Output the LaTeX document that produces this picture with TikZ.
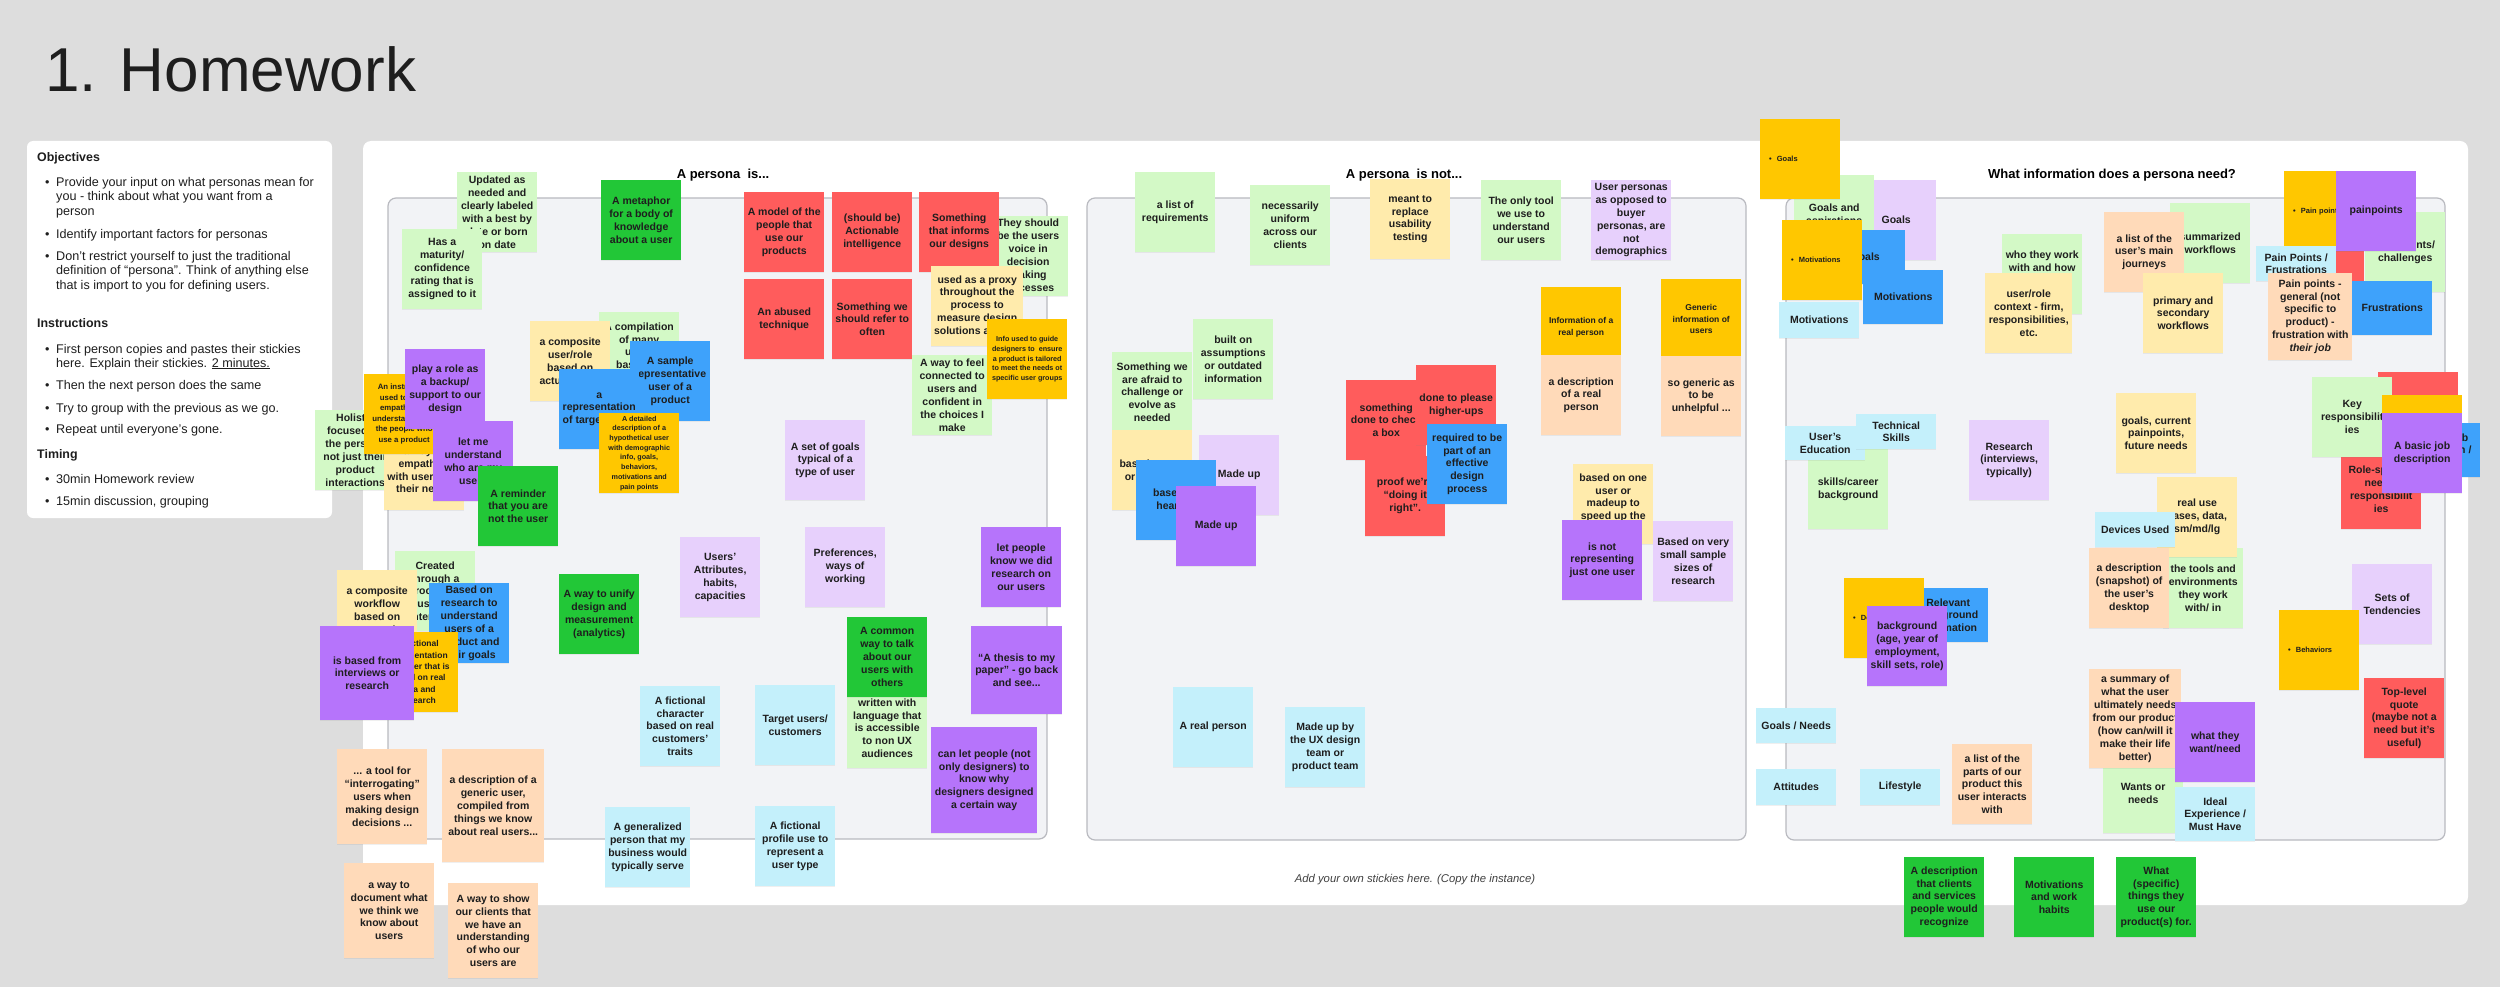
\documentclass[tikz,border=0pt]{standalone}
\usepackage{fontspec}
\setmainfont{Liberation Sans}
\usepackage{xcolor}
\usepackage{tikz}
\usetikzlibrary{shadows}

\definecolor{outergray}{HTML}{DDDDDD}
\definecolor{panelfill}{HTML}{F2F3F6}
\definecolor{panelline}{HTML}{B9BAC0}
\definecolor{inkblack}{HTML}{1E1E1E}
\definecolor{limefill}{HTML}{D3F9C6}
\definecolor{greenfill}{HTML}{22C737}
\definecolor{redfill}{HTML}{FF5C5C}
\definecolor{creamfill}{HTML}{FFEBAC}
\definecolor{amberfill}{HTML}{FFC700}
\definecolor{bluefill}{HTML}{3EA2FB}
\definecolor{violetfill}{HTML}{B674FB}
\definecolor{lilacfill}{HTML}{E7D0FC}
\definecolor{cyanfill}{HTML}{C4F0FB}
\definecolor{peachfill}{HTML}{FFDAB9}

\newcommand{\stickyfont}{\fontsize{10.5}{12.9}\selectfont\bfseries}
\newcommand{\stickymid}{\fontsize{8.5}{11.3}\selectfont\bfseries}
\newcommand{\stickysmall}{\fontsize{7.8}{10.5}\selectfont\bfseries}
\newcommand{\stickytiny}{\fontsize{7.2}{9.7}\selectfont\bfseries}
\newcommand{\bulletfont}{\fontsize{7.5}{9}\selectfont\bfseries}
\newcommand{\instrfont}{\fontsize{12.6}{14.3}\selectfont}
\newcommand{\instrhead}{\fontsize{12.4}{14.3}\selectfont\bfseries}

\begin{document}
\begin{tikzpicture}[
  x=1pt, y=-1pt,
  sticky/.style={anchor=north west, minimum width=80pt, minimum height=80pt,
                 inner sep=2pt, align=center, font=\stickyfont, text=inkblack,
                 drop shadow={shadow xshift=0pt,shadow yshift=-1.2pt,opacity=0.12}},
  limenote/.style={sticky, fill=limefill},
  greennote/.style={sticky, fill=greenfill},
  rednote/.style={sticky, fill=redfill},
  creamnote/.style={sticky, fill=creamfill},
  ambernote/.style={sticky, fill=amberfill},
  bluenote/.style={sticky, fill=bluefill},
  violetnote/.style={sticky, fill=violetfill},
  lilacnote/.style={sticky, fill=lilacfill},
  cyannote/.style={sticky, fill=cyanfill},
  peachnote/.style={sticky, fill=peachfill},
  bulletnote/.style={ambernote, font=\bulletfont, align=left,
                     text width=62pt, inner xsep=9pt},
  instr/.style={anchor=base west, font=\instrfont, text=inkblack, inner sep=0pt},
  instrtitle/.style={anchor=base west, font=\instrhead, text=inkblack, inner sep=0pt},
  coltitle/.style={font=\fontsize{13}{15}\selectfont\bfseries, text=black}
]

\useasboundingbox (0,0) rectangle (2500,987);
\fill[outergray] (0,0) rectangle (2500,987);

% ---- title and instructions ----
\node[anchor=base west, font=\fontsize{62}{70}\selectfont, text=inkblack, inner sep=0pt]
  (title) at (45,92) {1. Homework};
\fill[white, rounded corners=6pt] (27,141) rectangle (332,518);

\node[instrtitle] (objectives) at (37,162) {Objectives};
\node[instr] (ob1) at (45,187) {•};
\node[instr] (ob1a) at (56,187) {Provide your input on what personas mean for};
\node[instr] (ob1b) at (56,201) {you - think about what you want from a};
\node[instr] (ob1c) at (56,216) {person};
\node[instr] (ob2) at (45,238) {•};
\node[instr] (ob2a) at (56,238) {Identify important factors for personas};
\node[instr] (ob3) at (45,260) {•};
\node[instr] (ob3a) at (56,260) {Don’t restrict yourself to just the traditional};
\node[instr] (ob3b) at (56,274) {definition of “persona”. Think of anything else};
\node[instr] (ob3c) at (56,289) {that is import to you for defining users.};

\node[instrtitle] (instructions) at (37,327) {Instructions};
\node[instr] (in1) at (45,353) {•};
\node[instr] (in1a) at (56,353) {First person copies and pastes their stickies};
\node[instr] (in1b) at (56,367) {here. Explain their stickies. \underline{2 minutes.}};
\node[instr] (in2) at (45,389) {•};
\node[instr] (in2a) at (56,389) {Then the next person does the same};
\node[instr] (in3) at (45,412) {•};
\node[instr] (in3a) at (56,412) {Try to group with the previous as we go.};
\node[instr] (in4) at (45,433) {•};
\node[instr] (in4a) at (56,433) {Repeat until everyone’s gone.};

\node[instrtitle] (timing) at (37,458) {Timing};
\node[instr] (ti1) at (45,483) {•};
\node[instr] (ti1a) at (56,483) {30min Homework review};
\node[instr] (ti2) at (45,505) {•};
\node[instr] (ti2a) at (56,505) {15min discussion, grouping};

% ---- board and the three columns ----
\fill[white, rounded corners=8pt] (363,141) rectangle (2468,905);
\draw[panelline, fill=panelfill, line width=1.2pt, rounded corners=8pt] (388,198) rectangle (1047,839);
\draw[panelline, fill=panelfill, line width=1.2pt, rounded corners=8pt] (1087,198) rectangle (1746,840);
\draw[panelline, fill=panelfill, line width=1.2pt, rounded corners=8pt] (1786,198) rectangle (2445,840);

\node[coltitle] (istitle) at (723,175) {A persona\ \ is...};
\node[coltitle] (nottitle) at (1404,175) {A persona\ \ is not...};
\node[coltitle] (needtitle) at (2112,175) {What information does a persona need?};
\node[font=\fontsize{11.3}{13}\selectfont\itshape, text=black!75] (addown) at (1415,880)
  {Add your own stickies here. (Copy the instance)};

% ---- A persona is... ----
\node[limenote] (updated) at (457,172) {Updated as\\needed and\\clearly labeled\\with a best by\\date or born\\on date};
\node[limenote] (maturity) at (402,229) {Has a\\maturity/\\confidence\\rating that is\\assigned to it};
\node[greennote] (metaphor) at (601,180) {A metaphor\\for a body of\\knowledge\\about a user};

\node[rednote] (model) at (744,192) {A model of the\\people that\\use our\\products};
\node[rednote] (actionable) at (832,192) {(should be)\\Actionable\\intelligence};
\node[limenote] (voice) at (988,216) {They should\\be the users\\voice in\\decision\\making\\processes};
\node[rednote] (informs) at (919,192) {Something\\that informs\\our designs};
\node[rednote] (abused) at (744,279) {An abused\\technique};
\node[rednote] (refer) at (832,279) {Something we\\should refer to\\often};
\node[creamnote, minimum width=92pt] (proxy) at (931,266) {used as a proxy\\throughout the\\process to\\measure design\\solutions against};
\node[limenote] (connected) at (912,355) {A way to feel\\connected to\\users and\\confident in\\the choices I\\make};
\node[ambernote, font=\stickytiny] (guide) at (987,319) {Info used to guide\\designers to\ \ ensure\\a product is tailored\\to meet the needs ot\\specific user groups};

\node[limenote] (compile) at (599,312) {A compilation\\of many\\users\\based on\\research};
\node[creamnote] (composite) at (530,321) {a composite\\user/role\\based on\\actual users};
\node[bluenote] (sample) at (630,341) {A sample\\representative\\user of a\\product};
\node[bluenote] (reptarget) at (559,369) {a\\representation\\of target users};
\node[ambernote, font=\stickytiny] (detailed) at (599,413) {A detailed\\description of a\\hypothetical user\\with demographic\\info, goals,\\behaviors,\\motivations and\\pain points};

\node[limenote] (holistic) at (315,410) {Holistic\\focused on\\the persona\\not just their\\product\\interactions};
\node[creamnote] (empathize) at (384,430) {a way to\\empathize\\with users and\\their needs};
\node[ambernote, font=\stickysmall] (instrument) at (364,374) {An instrument\\used to build\\empathy and\\understanding of\\the people who\\use a product};
\node[violetnote] (backup) at (405,349) {play a role as\\a backup/\\support to our\\design};
\node[violetnote] (letme) at (433,421) {let me\\understand\\who are my\\users};
\node[greennote] (reminder) at (478,466) {A reminder\\that you are\\not the user};

\node[limenote] (created) at (395,551) {Created\\through a\\process of\\customer\\interviews};
\node[creamnote] (workflow) at (337,570) {a composite\\workflow\\based on\\research};
\node[bluenote] (basedon) at (429,583) {Based on\\research to\\understand\\users of a\\product and\\their goals};
\node[ambernote, font=\stickymid] (fictrep) at (378,632) {A fictional\\representation\\of a user that is\\based on real\\data and\\research};
\node[violetnote, minimum width=94pt, minimum height=94pt] (interviews) at (320,626) {is based from\\interviews or\\research};

\node[greennote] (unify) at (559,574) {A way to unify\\design and\\measurement\\(analytics)};
\node[lilacnote] (attributes) at (680,537) {Users’\\Attributes,\\habits,\\capacities};
\node[lilacnote] (goalset) at (785,420) {A set of goals\\typical of a\\type of user};
\node[lilacnote] (preferences) at (805,527) {Preferences,\\ways of\\working};
\node[violetnote] (didresearch) at (981,527) {let people\\know we did\\research on\\our users};
\node[cyannote] (character) at (640,686) {A fictional\\character\\based on real\\customers’\\traits};
\node[limenote] (accessible) at (847,688) {written with\\language that\\is accessible\\to non UX\\audiences};
\node[greennote] (common) at (847,617) {A common\\way to talk\\about our\\users with\\others};
\node[cyannote] (targetusers) at (755,685) {Target users/\\customers};
\node[violetnote, minimum width=91pt, minimum height=88pt] (thesis) at (971,626) {“A thesis to my\\paper” - go back\\and see...};
\node[violetnote, minimum width=106pt, minimum height=106pt] (letpeople) at (931,727) {can let people (not\\only designers) to\\know why\\designers designed\\a certain way};

\node[peachnote, minimum width=90pt, minimum height=95pt] (interrogate) at (337,749) {... a tool for\\“interrogating”\\users when\\making design\\decisions ...};
\node[peachnote, minimum width=102pt, minimum height=113pt] (generic) at (442,749) {a description of a\\generic user,\\compiled from\\things we know\\about real users...};
\node[cyannote, minimum width=85pt] (generalized) at (605,807) {A generalized\\person that my\\business would\\typically serve};
\node[cyannote] (profile) at (755,806) {A fictional\\profile use to\\represent a\\user type};
\node[peachnote, minimum width=90pt, minimum height=95pt] (document) at (344,863) {a way to\\document what\\we think we\\know about\\users};
\node[peachnote, minimum width=90pt, minimum height=95pt] (clients) at (448,883) {A way to show\\our clients that\\we have an\\understanding\\of who our\\users are};

% ---- A persona is not... ----
\node[limenote] (requirements) at (1135,172) {a list of\\requirements};
\node[limenote] (uniform) at (1250,185) {necessarily\\uniform\\across our\\clients};
\node[creamnote] (replace) at (1370,179) {meant to\\replace\\usability\\testing};
\node[limenote] (onlytool) at (1481,180) {The only tool\\we use to\\understand\\our users};
\node[lilacnote] (buyer) at (1591,180) {User personas\\as opposed to\\buyer\\personas, are\\not\\demographics};

\node[limenote] (assumptions) at (1193,319) {built on\\assumptions\\or outdated\\information};
\node[limenote] (afraid) at (1112,352) {Something we\\are afraid to\\challenge or\\evolve as\\needed};
\node[creamnote] (guesses) at (1112,430) {based on gut\\or intuition};
\node[lilacnote] (madeupa) at (1199,435) {Made up};
\node[bluenote] (hearsay) at (1136,460) {based on\\hearsay};
\node[violetnote] (madeupb) at (1176,486) {Made up};

\node[rednote] (checkbox) at (1346,380) {something\\done to check\\a box};
\node[rednote] (higherups) at (1416,365) {done to please\\higher-ups};
\node[rednote] (doingit) at (1365,456) {proof we’re\\“doing it\\right”.};
\node[bluenote] (required) at (1427,424) {required to be\\part of an\\effective\\design\\process};

\node[ambernote, font=\stickymid] (realinfo) at (1541,287) {Information of a\\real person};
\node[peachnote] (realdesc) at (1541,355) {a description\\of a real\\person};
\node[ambernote, font=\stickymid] (genericinfo) at (1661,279) {Generic\\information of\\users};
\node[peachnote] (unhelpful) at (1661,356) {so generic as\\to be\\unhelpful ...};
\node[creamnote] (speedup) at (1573,464) {based on one\\user or\\madeup to\\speed up the\\process};
\node[violetnote] (notone) at (1562,520) {is not\\representing\\just one user};
\node[lilacnote] (smallsample) at (1653,521) {Based on very\\small sample\\sizes of\\research};

\node[cyannote] (realperson) at (1173,687) {A real person};
\node[cyannote] (uxteam) at (1285,707) {Made up by\\the UX design\\team or\\product team};

% ---- What information does a persona need? ----
\node[lilacnote] (goalslilac) at (1856,180) {Goals};
\node[limenote] (aspirations) at (1794,175) {Goals and\\aspirations};
\node[bulletnote] (goalsbullet) at (1760,119) {•\hspace{5pt}Goals};
\node[bluenote, minimum height=54pt] (goalsblue) at (1825,230) {Goals};
\node[bulletnote] (motivbullet) at (1782,220) {•\hspace{5pt}Motivations};
\node[bluenote, minimum height=54pt] (motivblue) at (1863,270) {Motivations};
\node[cyannote, minimum height=36pt] (motivcyan) at (1779,302) {Motivations};

\node[limenote] (workwith) at (2002,234) {who they work\\with and how\\they\\collaborate};
\node[creamnote, minimum width=87pt] (rolecontext) at (1985,273) {user/role\\context - firm,\\responsibilities,\\etc.};

\node[limenote] (summarized) at (2170,203) {summarized\\workflows};
\node[peachnote] (journeys) at (2104,212) {a list of the\\user’s main\\journeys};
\node[creamnote] (primary) at (2143,273) {primary and\\secondary\\workflows};

\node[limenote] (challenges) at (2365,212) {Pain points/\\challenges};
\node[rednote] (painred) at (2284,205) {};
\node[bulletnote] (painbullet) at (2284,171) {•\hspace{5pt}Pain points};
\node[violetnote] (painpoints) at (2336,171) {painpoints};
\node[cyannote, minimum height=35pt] (painfrust) at (2256,246) {Pain Points /\\Frustrations};
\node[peachnote, minimum width=84pt, minimum height=87pt] (painjob) at (2268,273) {Pain points -\\general (not\\specific to\\product) -\\frustration with\\\textit{their job}};
\node[bluenote, minimum height=54pt] (frustrations) at (2352,281) {Frustrations};

\node[limenote] (skills) at (1808,449) {skills/career\\background};
\node[cyannote, minimum height=34pt] (education) at (1785,426) {User’s\\Education};
\node[cyannote, minimum height=35pt] (technical) at (1856,414) {Technical\\Skills};
\node[lilacnote] (research) at (1969,420) {Research\\(interviews,\\typically)};

\node[creamnote] (futureneeds) at (2116,393) {goals, current\\painpoints,\\future needs};
\node[limenote] (tools) at (2163,548) {the tools and\\environments\\they work\\with/ in};
\node[creamnote] (usecases) at (2157,477) {real use\\cases, data,\\sm/md/lg};
\node[cyannote, minimum height=35pt] (devices) at (2095,512) {Devices Used};
\node[peachnote] (desktop) at (2089,548) {a description\\(snapshot) of\\the user’s\\desktop};

\node[rednote] (redtop) at (2378,372) {};
\node[rednote] (rolespecific) at (2341,449) {Role-specific\\needs/\\responsibilit\\ies};
\node[limenote] (keyresp) at (2312,377) {Key\\responsibilit\\ies};
\node[ambernote] (ambertop) at (2382,395) {};
\node[bluenote, minimum height=54pt] (jobblue) at (2400,423) {A basic job\\description /\\role};
\node[violetnote] (basicjob) at (2382,413) {A basic job\\description};

\node[lilacnote] (tendencies) at (2352,564) {Sets of\\Tendencies};
\node[bulletnote] (behaviors) at (2279,610) {•\hspace{5pt}Behaviors};
\node[rednote] (quote) at (2364,678) {Top-level\\quote\\(maybe not a\\need but it’s\\useful)};

\node[bluenote, minimum height=54pt] (relevant) at (1908,588) {Relevant\\background\\information};
\node[bulletnote] (demographics) at (1844,578) {•\hspace{5pt}Demographics};
\node[violetnote] (agebg) at (1867,606) {background\\(age, year of\\employment,\\skill sets, role)};

\node[cyannote, minimum height=35pt] (goalsneeds) at (1756,708) {Goals / Needs};
\node[cyannote, minimum height=36pt] (attitudes) at (1756,769) {Attitudes};
\node[cyannote, minimum height=36pt] (lifestyle) at (1860,769) {Lifestyle};
\node[peachnote] (parts) at (1952,744) {a list of the\\parts of our\\product this\\user interacts\\with};

\node[limenote] (wants) at (2103,753) {Wants or\\needs};
\node[peachnote, minimum width=92pt, minimum height=99pt] (summary) at (2089,669) {a summary of\\what the user\\ultimately needs\\from our product\\(how can/will it\\make their life\\better)};
\node[violetnote] (wantneed) at (2175,702) {what they\\want/need};
\node[cyannote, minimum height=54pt] (ideal) at (2175,787) {Ideal\\Experience /\\Must Have};

% ---- below the board ----
\node[greennote] (recognize) at (1904,857) {A description\\that clients\\and services\\people would\\recognize};
\node[greennote] (habits) at (2014,857) {Motivations\\and work\\habits};
\node[greennote] (specific) at (2116,857) {What\\(specific)\\things they\\use our\\product(s) for.};

\end{tikzpicture}
\end{document}
